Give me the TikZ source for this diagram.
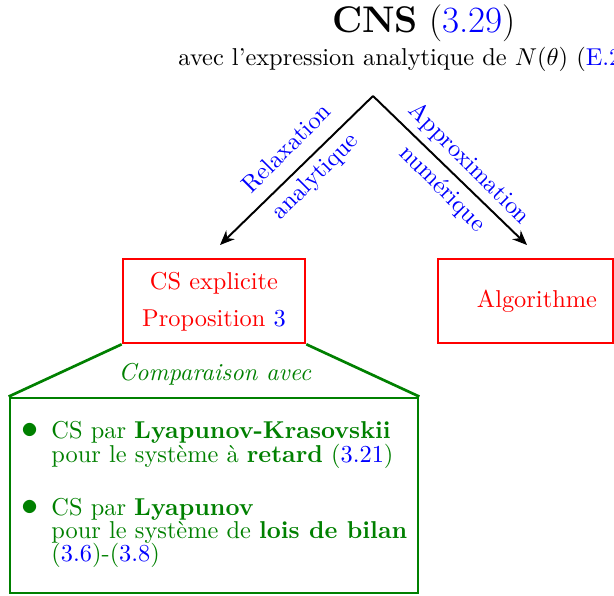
\documentclass[tikz,border=0pt]{standalone}
\usetikzlibrary{arrows.meta}
\definecolor{dkgreen}{rgb}{0,0.5,0}
\tikzset{
  redbox/.style={draw=red, line width=1.1pt, text=red, inner sep=0pt, align=center,
                 font={\fontsize{10}{15.2}\selectfont}},
  greenbox/.style={draw=dkgreen, line width=1.1pt, inner sep=0pt},
  greenline/.style={draw=dkgreen, line width=1.1pt},
  arr/.style={draw=black, line width=0.8pt, -{Stealth[length=6pt,width=5pt]}},
  lab/.style={text=blue, inner sep=0pt},
  gtxt/.style={text=dkgreen, inner sep=0pt, anchor=base west},
  bul/.style={text=dkgreen, inner sep=0pt, anchor=center},
}
\begin{document}
\begin{tikzpicture}[x=0.41pt, y=-0.41pt]
\useasboundingbox (0,0) rectangle (614,595);
% title
\node[inner sep=0pt, anchor=base] (title) at (424,33)
  {\fontsize{15.2}{18}\selectfont\textbf{CNS} (\textcolor{blue}{3.29})};
\node[inner sep=0pt, anchor=base west] (sub) at (178,66)
  {avec l'expression analytique de $N(\theta)$ (\textcolor{blue}{E.2})};
% arrows
\coordinate (apex) at (373,96);
\coordinate (lend) at (220,245);
\coordinate (rend) at (527,245);
\draw[arr] (apex) -- (lend);
\draw[arr] (apex) -- (rend);
\node[lab, rotate=45] (l1) at (286,148) {Relaxation};
\node[lab, rotate=45] (l2) at (316,177) {analytique};
\node[lab, rotate=-45] (r1) at (469,164) {Approximation};
\node[lab, rotate=-45] (r2) at (442,189) {numérique};
% red boxes
\node[redbox, minimum width=74.6pt, minimum height=34.4pt] (cs) at (214,301)
  {\rule{0pt}{8pt}CS explicite\\Proposition \textcolor{blue}{3}};
\node[redbox, minimum width=71.75pt, minimum height=34.4pt] (algo) at (525.5,301)
  {\hspace*{9.4pt}Algorithme};
% green comparison box
\node[greenbox, minimum width=167.3pt, minimum height=80pt] (cmp) at (214,495.5) {};
\draw[greenline] (cs.south west) -- (cmp.north west);
\draw[greenline] (cs.south east) -- (cmp.north east);
\node[text=dkgreen, inner sep=0pt, anchor=base] (comp) at (215,380) {\textit{Comparaison avec}};
\node[bul] (b1) at (30,431) {\scalebox{1.4}{$\bullet$}};
\node[gtxt] (t1) at (51,438) {CS par \textbf{Lyapunov-Krasovskii}};
\node[gtxt] (t2) at (51,462) {pour le système à \textbf{retard} (\textcolor{blue}{3.21})};
\node[bul] (b2) at (30,508) {\scalebox{1.4}{$\bullet$}};
\node[gtxt] (t3) at (51,515) {CS par \textbf{Lyapunov}};
\node[gtxt] (t4) at (51,538) {pour le système de \textbf{lois de bilan}};
\node[gtxt] (t5) at (51,561) {(\textcolor{blue}{3.6})-(\textcolor{blue}{3.8})};
\end{tikzpicture}
\end{document}
